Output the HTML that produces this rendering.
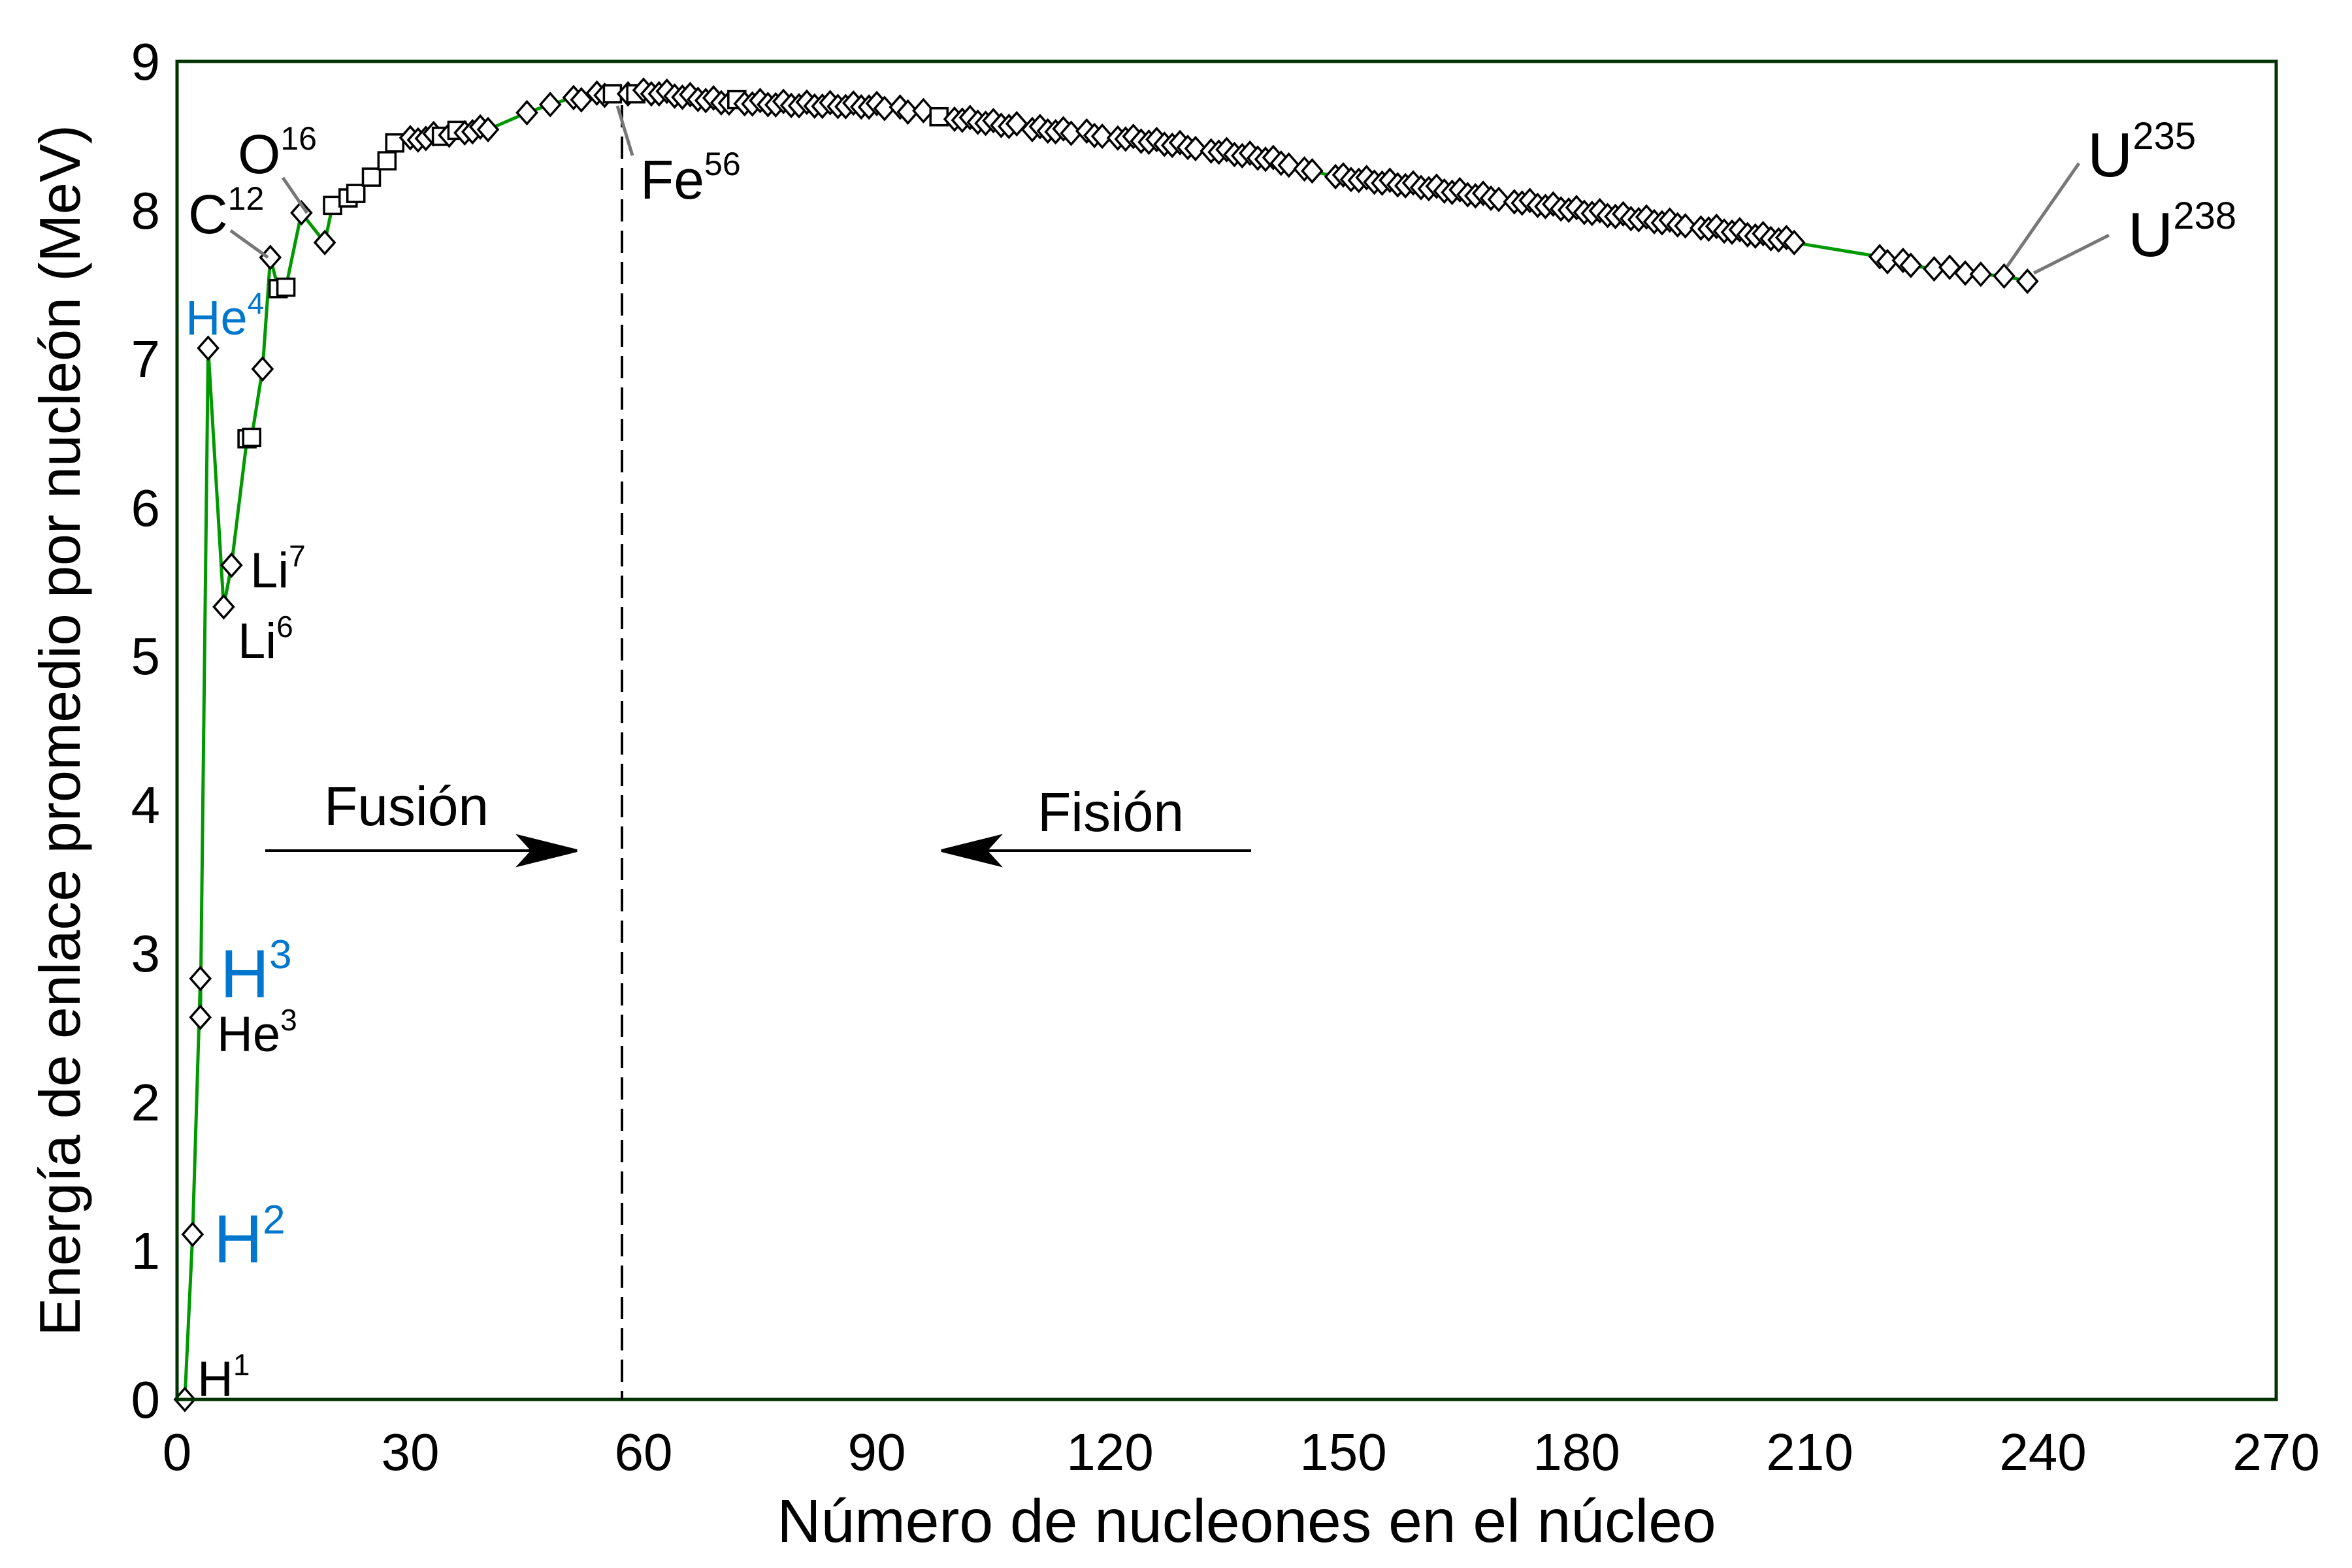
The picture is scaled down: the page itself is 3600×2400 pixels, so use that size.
<!DOCTYPE html>
<html><head><meta charset="utf-8">
<style>
html,body{margin:0;padding:0;background:#fff;}
svg{display:block;}
text{font-family:"Liberation Sans",Arial,sans-serif;}
</style></head>
<body>
<svg id="s" width="3600" height="2400" viewBox="0 0 3600 2400" xmlns="http://www.w3.org/2000/svg">
<rect width="3600" height="2400" fill="#fff"/>
<g id="plot"></g>
<rect x="271" y="94" width="3213" height="2048" fill="none" stroke="#003300" stroke-width="5"/>
<line x1="952" y1="161" x2="952" y2="2142" stroke="#000" stroke-width="4" stroke-dasharray="34,14"/>
<g font-size="80" fill="#000" text-anchor="end">
<text x="245" y="2170">0</text><text x="245" y="1942">1</text><text x="245" y="1715">2</text>
<text x="245" y="1487">3</text><text x="245" y="1260">4</text><text x="245" y="1032">5</text>
<text x="245" y="805">6</text><text x="245" y="577">7</text><text x="245" y="350">8</text>
<text x="245" y="122">9</text>
</g>
<g font-size="80" fill="#000" text-anchor="middle">
<text x="271" y="2250">0</text><text x="628" y="2250">30</text><text x="985" y="2250">60</text>
<text x="1342" y="2250">90</text><text x="1699" y="2250">120</text><text x="2056" y="2250">150</text>
<text x="2413" y="2250">180</text><text x="2770" y="2250">210</text><text x="3127" y="2250">240</text>
<text x="3484" y="2250">270</text>
</g>
<text x="1908" y="2360" font-size="93" text-anchor="middle">Número de nucleones en el núcleo</text>
<text transform="translate(122,1118) rotate(-90)" font-size="88" text-anchor="middle">Energía de enlace promedio por nucleón (MeV)</text>
<g stroke="#777" stroke-width="5">
<line x1="968" y1="238" x2="945" y2="162"/>
<line x1="433" y1="272" x2="470" y2="326"/>
<line x1="353" y1="353" x2="410" y2="394"/>
<line x1="3182" y1="250" x2="3072" y2="408"/>
<line x1="3228" y1="360" x2="3113" y2="418"/>
</g>
<g fill="#000" font-size="84">
<text x="980" y="304">Fe<tspan font-size="50" dy="-36">56</tspan></text>
<text x="364" y="265">O<tspan font-size="50" dy="-36">16</tspan></text>
<text x="288" y="357">C<tspan font-size="50" dy="-36">12</tspan></text>
<text x="383" y="899" font-size="76">Li<tspan font-size="46" dy="-32">7</tspan></text>
<text x="364" y="1007" font-size="76">Li<tspan font-size="46" dy="-32">6</tspan></text>
<text x="332" y="1609" font-size="76">He<tspan font-size="46" dy="-32">3</tspan></text>
<text x="302" y="2137" font-size="76">H<tspan font-size="46" dy="-32">1</tspan></text>
<text x="3195" y="270" font-size="96">U<tspan font-size="58" dy="-42">235</tspan></text>
<text x="3257" y="392" font-size="96">U<tspan font-size="58" dy="-42">238</tspan></text>
<text x="496" y="1263">Fusión</text>
<text x="1588" y="1272">Fisión</text>
</g>
<g fill="#0077cc">
<text x="284" y="512" font-size="74">He<tspan font-size="46" dy="-32">4</tspan></text>
<text x="337" y="1526" font-size="104">H<tspan font-size="62" dy="-44">3</tspan></text>
<text x="327" y="1932" font-size="104">H<tspan font-size="62" dy="-44">2</tspan></text>
</g>
<g stroke="#000" stroke-width="4">
<line x1="406" y1="1302" x2="850" y2="1302"/>
<polygon points="883,1302 795,1280 815,1302 795,1324" fill="#000"/>
<line x1="1915" y1="1302" x2="1475" y2="1302"/>
<polygon points="1441,1302 1529,1280 1509,1302 1529,1324" fill="#000"/>
</g>
</svg>
<script>
(function(){
var X=function(a){return 271+a*3213/270;}, Y=function(v){return 2142-v*227.6;};
var light=[[1,0,'d'],[2,1.11,'d'],[3,2.83,'d'],[3,2.57,'d'],[4,7.07,'d'],[6,5.33,'d'],[7,5.61,'d'],[9,6.46,'s'],[9.6,6.47,'s'],[11,6.93,'d'],[12,7.68,'d'],[13,7.47,'s'],[14,7.48,'s'],[16,7.98,'d'],[19,7.78,'d'],[20,8.03,'s'],[22,8.08,'s'],[23,8.11,'s'],[25,8.22,'s'],[27,8.33,'s'],[28,8.45,'s']];
var anch=[[28,8.45],[32,8.49],[40,8.55],[44,8.62],[50,8.73],[56,8.79],[62,8.79],[70,8.73],[80,8.71],[90,8.70],[100,8.62],[110,8.55],[120,8.50],[130,8.43],[140,8.35],[150,8.22],[160,8.16],[170,8.08],[180,8.00],[190,7.93],[200,7.86],[208,7.79],[219,7.67],[225,7.62],[230,7.585],[235,7.565],[238,7.53]];
function f(a){for(var i=0;i<anch.length-1;i++){if(a<=anch[i+1][0]){var t=(a-anch[i][0])/(anch[i+1][0]-anch[i][0]);return anch[i][1]+t*(anch[i+1][1]-anch[i][1]);}}return 7.53;}
var pts=light.slice();
var heavy=[30,31,32,33,34,35,36,37,38,39,40,45,48,51,52,54,55,56,58,59,60,61,62,63,64,65,66,67,68,69,70,71,72,73,74,75,76,77,78,79,80,81,82,83,84,85,86,87,88,89,90,91,93,94,96,98,100,101,102,103,104,105,106,107,108,110,111,112,113,114,115,117,118,119,121,122,123,124,125,126,127,128,129,130,131,133,134,135,136,137,138,139,140,141,142,143,145,146,149,150,151,152,153,154,155,156,157,158,159,160,161,162,163,164,165,166,167,168,169,170,172,173,174,175,176,177,178,179,180,181,182,183,184,185,186,187,188,189,190,191,192,193,194,196,197,198,199,200,201,202,203,204,205,206,207,208,219,220,222,223,226,228,230,232,235,238];
var sq={34:1,36:1,56:1,59:1,72:1,98:1};
heavy.forEach(function(a){pts.push([a,f(a)+(a%3==0?0.015:-0.01),sq[a]?'s':'d']);});
var g='';var d='';
pts.forEach(function(p,i){d+=(i?'L':'M')+X(p[0]).toFixed(1)+','+Y(p[1]).toFixed(1);});
g+='<path d="'+d+'" fill="none" stroke="#009900" stroke-width="5" stroke-linejoin="round"/>';
pts.forEach(function(p){var x=X(p[0]),y=Y(p[1]);
if(p[2]=='s'){g+='<rect x="'+(x-13)+'" y="'+(y-13)+'" width="26" height="26" fill="#fff" stroke="#000" stroke-width="3.5"/>';}
else{g+='<polygon points="'+x+','+(y-17)+' '+(x+15)+','+y+' '+x+','+(y+17)+' '+(x-15)+','+y+'" fill="#fff" stroke="#000" stroke-width="3.5"/>';}});
document.getElementById('plot').innerHTML=g;
})();
</script>
</body></html>
